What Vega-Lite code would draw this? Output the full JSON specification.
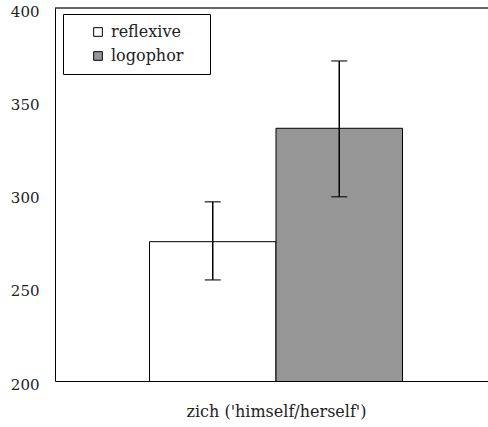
{
  "$schema": "https://vega.github.io/schema/vega-lite/v6.json",
  "autosize": "none",
  "width": 433,
  "height": 373,
  "padding": {"left": 55, "top": 8, "right": 0, "bottom": 46},
  "background": "white",
  "config": {
    "view": {"stroke": null},
    "font": "DejaVu Serif",
    "axis": {"labelFont": "DejaVu Serif", "titleFont": "DejaVu Serif", "labelColor": "#222", "titleColor": "#222", "domainColor": "#000", "domainWidth": 1}
  },
  "data": {"values": [
    {"cat": "zich ('himself/herself')", "type": "reflexive", "value": 274.7, "lo": 254.2, "hi": 296.1},
    {"cat": "zich ('himself/herself')", "type": "logophor", "value": 335.5, "lo": 298.8, "hi": 371.6}
  ]},
  "encoding": {
    "x": {"field": "cat", "type": "nominal", "scale": {"range": [0, 442], "paddingInner": 0, "paddingOuter": 0.3735},
      "axis": {"labels": false, "ticks": false, "title": "zich ('himself/herself')", "titleFontSize": 16, "titleFontWeight": "normal", "titlePadding": 22}},
    "xOffset": {"field": "type", "type": "nominal", "scale": {"domain": ["reflexive", "logophor"], "paddingInner": 0, "paddingOuter": 0}}
  },
  "layer": [
    {
      "mark": {"type": "rule", "color": "#333", "strokeWidth": 1},
      "encoding": {"y": {"datum": 400, "type": "quantitative"}, "x": null, "xOffset": null}
    },
    {
      "mark": {"type": "bar", "stroke": "#000", "strokeWidth": 1, "clip": true},
      "encoding": {
        "y": {"field": "value", "type": "quantitative", "scale": {"domain": [200, 400], "nice": false, "zero": false},
          "axis": {"values": [200, 250, 300, 350, 400], "grid": false, "ticks": false, "labelPadding": 16, "labelOffset": 3, "labelFontSize": 15, "title": null}},
        "fill": {"field": "type", "type": "nominal", "scale": {"domain": ["reflexive", "logophor"], "range": ["#ffffff", "#969696"]},
          "legend": {"title": "\u00a0", "titleOrient": "right", "titlePadding": 17, "titleFontSize": 15, "titleFont": "DejaVu Serif",
            "orient": "none", "legendX": 8, "legendY": 6, "direction": "vertical",
            "strokeColor": "#000", "fillColor": "#fff", "padding": 10, "symbolType": "square", "symbolSize": 75,
            "symbolStrokeColor": "#000", "symbolStrokeWidth": 1, "symbolOffset": 17, "labelOffset": 5,
            "labelFont": "DejaVu Serif", "labelFontSize": 16, "labelColor": "#222", "rowPadding": 8}}
      }
    },
    {
      "mark": {"type": "rule", "color": "#000", "strokeWidth": 1.5},
      "encoding": {"y": {"field": "lo", "type": "quantitative"}, "y2": {"field": "hi"}}
    },
    {
      "mark": {"type": "tick", "color": "#000", "thickness": 1.5, "size": 16, "orient": "horizontal"},
      "encoding": {"y": {"field": "lo", "type": "quantitative"}}
    },
    {
      "mark": {"type": "tick", "color": "#000", "thickness": 1.5, "size": 16, "orient": "horizontal"},
      "encoding": {"y": {"field": "hi", "type": "quantitative"}}
    }
  ]
}
